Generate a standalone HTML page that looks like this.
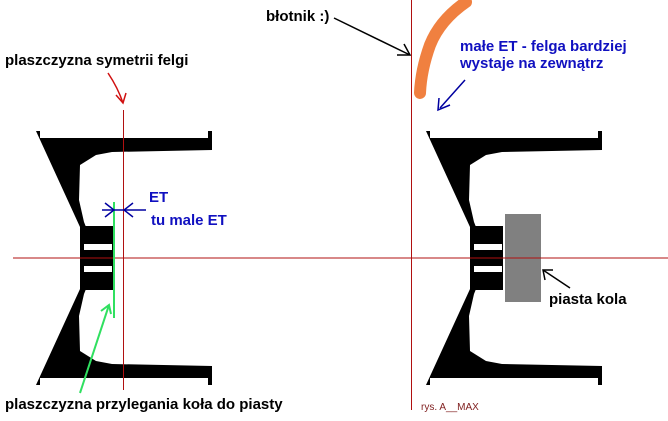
<!DOCTYPE html>
<html><head><meta charset="utf-8"><style>
html,body{margin:0;padding:0;background:#fff}
svg{display:block}
text{font-family:"Liberation Sans",sans-serif;font-weight:bold;font-size:15px}
</style></head><body>
<svg width="668" height="421" viewBox="0 0 668 421" xmlns="http://www.w3.org/2000/svg">
<defs>
<g id="w">
<path d="M36,131 L40,131 L40,138 L208,138 L208,131 L212,131 L212,150 L112,152 L96,155 L80,165 L79,200 L84,222 L86,227 L80,227 Z" fill="#000"/>
<path d="M36,385 L40,385 L40,378 L208,378 L208,385 L212,385 L212,366 L112,364 L96,361 L80,351 L79,316 L84,294 L86,289 L80,289 Z" fill="#000"/>
<rect x="80" y="226" width="33" height="64" fill="#000"/>
<rect x="84" y="244" width="28" height="6" fill="#fff"/>
<rect x="84" y="266" width="28" height="6" fill="#fff"/>
</g>
</defs>
<use href="#w"/>
<use href="#w" transform="translate(390,0)"/>
<rect x="505" y="214" width="36" height="88" fill="#808080"/>
<line x1="13" y1="258" x2="668" y2="258" stroke="#b01010" stroke-width="1"/>
<line x1="123.5" y1="110" x2="123.5" y2="390" stroke="#b01010" stroke-width="1"/>
<line x1="411.5" y1="0" x2="411.5" y2="410" stroke="#b01010" stroke-width="1"/>
<path d="M466,2 Q440,20 430,45 Q421,70 420,93" stroke="#f08040" stroke-width="12" fill="none" stroke-linecap="round"/>
<line x1="114" y1="202" x2="114" y2="318" stroke="#30e060" stroke-width="2"/>
<line x1="80" y1="393" x2="109" y2="305" stroke="#30e060" stroke-width="2"/>
<path d="M101,311 L109,305 L111,314" stroke="#30e060" stroke-width="2" fill="none"/>
<g stroke="#0000a0" stroke-width="1.5" fill="none">
<line x1="102" y1="210" x2="146" y2="210"/>
<path d="M105,203 L114,210 L105,217"/>
<path d="M133,203 L124,210 L133,217"/>
<line x1="465" y1="80" x2="440" y2="108"/>
<path d="M439,98 L438,110 L450,105"/>
</g>
<path d="M108,73 Q118,88 123,103" stroke="#d01010" stroke-width="1.5" fill="none"/>
<path d="M116,95 L123,103 L126,93" stroke="#d01010" stroke-width="1.5" fill="none"/>
<g stroke="#000" stroke-width="1.5" fill="none">
<line x1="334" y1="18" x2="410" y2="55"/>
<path d="M397,55 L410,55 L404,44"/>
<line x1="570" y1="288" x2="543" y2="270"/>
<path d="M545,280 L543,270 L553,270"/>
</g>
<text x="5" y="65">plaszczyzna symetrii felgi</text>
<text x="266" y="21">błotnik :)</text>
<text x="460" y="51" fill="#1010c0">małe ET - felga bardziej</text>
<text x="460" y="68" fill="#1010c0">wystaje na zewnątrz</text>
<text x="149" y="202" fill="#1010c0">ET</text>
<text x="151" y="225" fill="#1010c0">tu male ET</text>
<text x="549" y="304">piasta kola</text>
<text x="5" y="409">plaszczyzna przylegania koła do piasty</text>
<text x="421" y="410" style="font-weight:normal;font-size:10px" fill="#802020">rys. A__MAX</text>
</svg>
</body></html>
